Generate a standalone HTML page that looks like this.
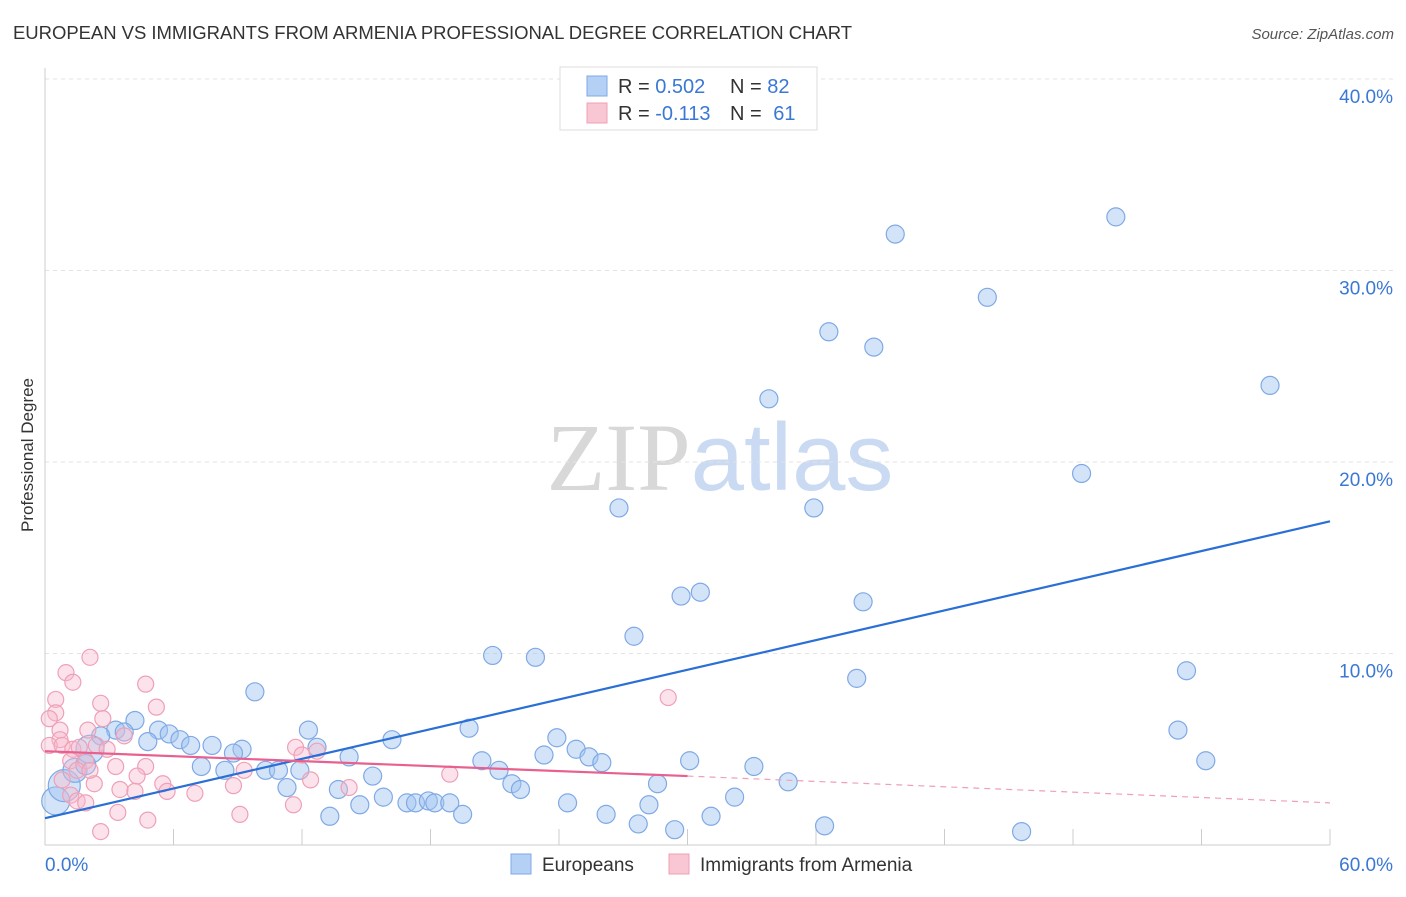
<!DOCTYPE html>
<html><head><meta charset="utf-8">
<style>
body{margin:0;background:#fff;font-family:"Liberation Sans",sans-serif;}
svg text{font-family:"Liberation Sans",sans-serif;}
</style></head>
<body>
<svg id="chart" width="1406" height="892" viewBox="0 0 1406 892" xmlns="http://www.w3.org/2000/svg">
<text x="13" y="39" font-size="18.5" fill="#333" textLength="839">EUROPEAN VS IMMIGRANTS FROM ARMENIA PROFESSIONAL DEGREE CORRELATION CHART</text>
<text x="1394" y="39" font-size="15" fill="#555" text-anchor="end" font-style="italic">Source: ZipAtlas.com</text>
<text transform="translate(33,455) rotate(-90)" font-size="17" fill="#333" text-anchor="middle">Professional Degree</text>
<text x="720" y="490" font-size="96" text-anchor="middle"><tspan fill="#d8d8d8" font-family="Liberation Serif">ZIP</tspan><tspan fill="#c9daf2">atlas</tspan></text>
<g id="grid"></g>
<g id="axes"></g>
<g id="marks"></g>
<g>
<rect x="560" y="67" width="257" height="63" fill="#fff" stroke="#ddd"/>
<rect x="587" y="76" width="20" height="20" fill="#b5d0f5" stroke="#7fa9e6"/>
<rect x="587" y="103" width="20" height="20" fill="#f9c6d4" stroke="#efa0b6"/>
<text x="618" y="93" font-size="20" fill="#333">R = <tspan fill="#3a78d4">0.502</tspan></text>
<text x="730" y="93" font-size="20" fill="#333">N = <tspan fill="#3a78d4">82</tspan></text>
<text x="618" y="120" font-size="20" fill="#333">R = <tspan fill="#3a78d4">-0.113</tspan></text>
<text x="730" y="120" font-size="20" fill="#333">N = <tspan fill="#3a78d4" dx="6">61</tspan></text>
</g>
<g>
<rect x="511" y="854" width="20" height="20" fill="#b5d0f5" stroke="#7fa9e6"/>
<text x="542" y="871" font-size="19" fill="#333">Europeans</text>
<rect x="669" y="854" width="20" height="20" fill="#f9c6d4" stroke="#efa0b6"/>
<text x="700" y="871" font-size="19" fill="#333">Immigrants from Armenia</text>
</g>
</svg>
<script>
const xTicks=[0,6,12,18,24,30,36,42,48,54,60];
const yTicks=[10,20,30,40];
const yTickLabels=["10.0%","20.0%","30.0%","40.0%"];
const xEndLabels=["0.0%","60.0%"];
const blueX=[50.0,39.7,44.0,36.6,38.7,57.2,33.8,48.4,26.8,35.9,30.6,29.7,38.2,27.5,20.9,22.9,53.3,37.9,9.8,52.9,19.8,12.3,16.2,23.9,4.2,3.3,2.6,3.7,5.3,5.8,6.3,4.8,6.8,7.8,9.2,8.8,12.7,14.2,24.8,23.3,20.4,25.4,26.0,30.1,33.1,54.2,7.3,8.4,10.3,10.9,11.9,21.2,15.3,21.8,22.2,28.6,34.7,13.7,11.3,15.8,16.9,17.3,17.9,18.2,18.9,14.7,24.4,28.2,32.2,19.5,26.2,31.1,27.7,29.4,36.4,45.6,13.3,0.5,0.9,1.4,2.1,1.9];
const blueY=[32.8,31.9,28.6,26.8,26.0,24.0,23.3,19.4,17.6,17.6,13.2,13.0,12.7,10.9,9.9,9.8,9.1,8.7,8.0,6.0,6.1,6.0,5.5,5.6,6.5,6.0,5.7,5.9,6.0,5.8,5.5,5.4,5.2,5.2,5.0,4.8,5.1,4.6,5.0,4.7,4.4,4.6,4.3,4.4,4.1,4.4,4.1,3.9,3.9,3.9,3.9,3.9,3.6,3.2,2.9,3.2,3.3,2.9,3.0,2.5,2.2,2.2,2.3,2.2,2.2,2.1,2.2,2.1,2.5,1.6,1.6,1.5,1.1,0.8,1.0,0.7,1.5,2.3,3.1,3.9,5.0,4.2];
const blueSize=[9,9,9,9,9,9,9,9,9,9,9,9,9,9,9,9,9,9,9,9,9,9,9,9,9,9,9,9,9,9,9,9,9,9,9,9,9,9,9,9,9,9,9,9,9,9,9,9,9,9,9,9,9,9,9,9,9,9,9,9,9,9,9,9,9,9,9,9,9,9,9,9,9,9,9,9,9,14,16,12,14,10];
const pinkX=[2.1,0.98,1.3,4.7,0.5,2.6,5.2,0.5,0.2,2.7,29.1,0.7,2.0,0.7,0.2,0.8,1.3,1.6,2.4,2.9,3.7,11.7,12.0,12.7,1.2,1.9,1.5,3.3,4.7,9.3,18.9,4.3,2.3,0.8,5.5,12.4,14.2,3.5,4.2,5.7,7.0,8.8,1.2,1.5,1.9,11.6,3.4,4.8,9.1,2.6,2.1];
const pinkY=[9.8,9.0,8.5,8.4,7.6,7.4,7.2,6.9,6.6,6.6,7.7,6.0,6.0,5.5,5.2,5.2,5.0,5.1,5.2,5.0,5.7,5.1,4.7,4.9,4.4,4.4,3.9,4.1,4.1,3.9,3.7,3.6,3.2,3.4,3.2,3.4,3.0,2.9,2.8,2.8,2.7,3.1,2.6,2.3,2.2,2.1,1.7,1.3,1.6,0.7,3.9];
const blueTrend=[[0,1.4],[60,16.9]];
const pinkTrendSolid=[[0,4.9],[30,3.6]];
const pinkTrendDash=[[30,3.6],[60,2.2]];
const X=v=>45+v*(1330-45)/60;
const Y=v=>845-v*19.15;
const NS="http://www.w3.org/2000/svg";
function mk(tag,attrs,parent){const e=document.createElementNS(NS,tag);for(const k in attrs)e.setAttribute(k,attrs[k]);parent.appendChild(e);return e;}
const grid=document.getElementById('grid'),axes=document.getElementById('axes'),marks=document.getElementById('marks');
yTicks.forEach((t,i)=>{
 const l=mk('line',{x1:45,x2:1395,y1:Y(t),y2:Y(t),stroke:'#e3e3e3','stroke-dasharray':'4,4'},grid);
 
 
 const tx=mk('text',{x:1393,y:Y(t)+24,'font-size':19,fill:'#3a78d4','text-anchor':'end'},axes);
 tx.textContent=yTickLabels[i];
 
 
});
const ya=mk('line',{x1:45,x2:45,y1:68,y2:845,stroke:'#ccc'},axes);


const xa=mk('line',{x1:45,x2:1330,y1:845,y2:845,stroke:'#ccc'},axes);


xTicks.forEach(t=>{
 const l=mk('line',{x1:X(t),x2:X(t),y1:829,y2:845,stroke:'#ccc'},axes);
 
 
});
[[0,'start',45],[60,'end',1393]].forEach((d,i)=>{
 const tx=mk('text',{x:d[2],y:871,'font-size':19,fill:'#3a78d4','text-anchor':d[1]},axes);
 tx.textContent=xEndLabels[i];
 
 
});
blueX.forEach((v,i)=>{
 const c=mk('circle',{cx:X(v),cy:Y(blueY[i]),r:blueSize[i],fill:'rgba(160,195,240,0.45)',stroke:'#7fa9e6','stroke-width':1.2},marks);
 
 
});
pinkX.forEach((v,i)=>{
 const c=mk('circle',{cx:X(v),cy:Y(pinkY[i]),r:8,fill:'rgba(248,185,205,0.4)',stroke:'#efa0b6','stroke-width':1.2},marks);
 
 
});
const bt=mk('line',{x1:X(blueTrend[0][0]),y1:Y(blueTrend[0][1]),x2:X(blueTrend[1][0]),y2:Y(blueTrend[1][1]),stroke:'#2a6fd6','stroke-width':2.2},marks);


const pt=mk('line',{x1:X(pinkTrendSolid[0][0]),y1:Y(pinkTrendSolid[0][1]),x2:X(pinkTrendSolid[1][0]),y2:Y(pinkTrendSolid[1][1]),stroke:'#e8608f','stroke-width':2.2},marks);


const pd=mk('line',{x1:X(pinkTrendDash[0][0]),y1:Y(pinkTrendDash[0][1]),x2:X(pinkTrendDash[1][0]),y2:Y(pinkTrendDash[1][1]),stroke:'#eea0ba','stroke-width':1.2,'stroke-dasharray':'6,5'},marks);


</script>
</body></html>
